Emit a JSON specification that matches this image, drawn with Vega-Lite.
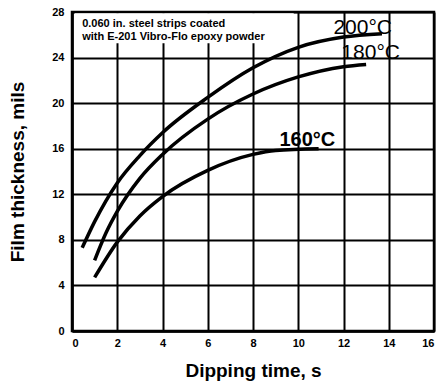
{
  "$schema": "https://vega.github.io/schema/vega-lite/v6.json",
  "width": 362,
  "height": 319,
  "autosize": {"type": "none"},
  "padding": {"left": 72, "top": 12, "right": 9, "bottom": 58},
  "background": "white",
  "config": {
    "view": {"stroke": "black", "strokeWidth": 2.5},
    "font": "Liberation Sans",
    "axis": {
      "domainColor": "black",
      "domainWidth": 2.5,
      "gridColor": "black",
      "gridWidth": 2,
      "gridOpacity": 1,
      "ticks": false,
      "labelColor": "black",
      "labelFont": "Liberation Sans",
      "labelFontWeight": "bold",
      "labelFontSize": 11,
      "titleColor": "black",
      "titleFont": "Liberation Sans",
      "titleFontWeight": "bold",
      "titleFontSize": 19
    }
  },
  "datasets": {
    "curves": [
      {"t": 0.45, "h": 7.3, "temp": "200"},
      {"t": 1.0, "h": 9.6, "temp": "200"},
      {"t": 2.0, "h": 13.0, "temp": "200"},
      {"t": 3.0, "h": 15.4, "temp": "200"},
      {"t": 4.0, "h": 17.4, "temp": "200"},
      {"t": 6.0, "h": 20.5, "temp": "200"},
      {"t": 8.0, "h": 23.1, "temp": "200"},
      {"t": 10.0, "h": 24.9, "temp": "200"},
      {"t": 12.0, "h": 25.8, "temp": "200"},
      {"t": 13.7, "h": 26.1, "temp": "200"},
      {"t": 1.0, "h": 6.2, "temp": "180"},
      {"t": 1.5, "h": 8.6, "temp": "180"},
      {"t": 2.0, "h": 10.5, "temp": "180"},
      {"t": 3.0, "h": 13.4, "temp": "180"},
      {"t": 4.0, "h": 15.5, "temp": "180"},
      {"t": 6.0, "h": 18.6, "temp": "180"},
      {"t": 8.0, "h": 20.8, "temp": "180"},
      {"t": 10.0, "h": 22.3, "temp": "180"},
      {"t": 12.0, "h": 23.2, "temp": "180"},
      {"t": 13.0, "h": 23.4, "temp": "180"},
      {"t": 1.0, "h": 4.7, "temp": "160"},
      {"t": 2.0, "h": 7.8, "temp": "160"},
      {"t": 3.0, "h": 10.1, "temp": "160"},
      {"t": 4.0, "h": 11.8, "temp": "160"},
      {"t": 6.0, "h": 14.1, "temp": "160"},
      {"t": 8.0, "h": 15.5, "temp": "160"},
      {"t": 9.0, "h": 15.85, "temp": "160"},
      {"t": 10.9, "h": 16.0, "temp": "160"}
    ],
    "labels": [
      {"t": 12.85, "h": 26.6, "txt": "200°C"},
      {"t": 13.2, "h": 24.4, "txt": "180°C"}
    ],
    "boldlabels": [
      {"t": 10.4, "h": 16.8, "txt": "160°C"}
    ],
    "notebox": [
      {"t0": 0.12, "t1": 9.8, "h0": 25.25, "h1": 27.88}
    ],
    "note": [
      {"t": 0.45, "h": 26.95, "txt": "0.060 in. steel strips coated"},
      {"t": 0.45, "h": 25.8, "txt": "with E-201 Vibro-Flo epoxy powder"}
    ]
  },
  "layer": [
    {
      "data": {"name": "curves"},
      "mark": {"type": "line", "interpolate": "monotone", "color": "black", "strokeWidth": 3.5, "strokeCap": "butt"},
      "encoding": {
        "x": {
          "field": "t", "type": "quantitative",
          "scale": {"domain": [0, 16], "nice": false},
          "axis": {"values": [0, 2, 4, 6, 8, 10, 12, 14, 16], "grid": true, "title": "Dipping time, s", "titlePadding": 13, "labelPadding": 6}
        },
        "y": {
          "field": "h", "type": "quantitative",
          "scale": {"domain": [0, 28], "nice": false},
          "axis": {"values": [0, 4, 8, 12, 16, 20, 24, 28], "grid": true, "title": "Film thickness, mils", "titlePadding": 24, "labelPadding": 8}
        },
        "detail": {"field": "temp", "type": "nominal"}
      }
    },
    {
      "data": {"name": "notebox"},
      "mark": {"type": "rect", "color": "white", "opacity": 1},
      "encoding": {
        "x": {"field": "t0", "type": "quantitative"},
        "x2": {"field": "t1"},
        "y": {"field": "h0", "type": "quantitative"},
        "y2": {"field": "h1"}
      }
    },
    {
      "data": {"name": "labels"},
      "mark": {"type": "text", "color": "black", "font": "Liberation Sans", "fontSize": 21, "align": "center", "baseline": "middle"},
      "encoding": {
        "x": {"field": "t", "type": "quantitative"},
        "y": {"field": "h", "type": "quantitative"},
        "text": {"field": "txt"}
      }
    },
    {
      "data": {"name": "boldlabels"},
      "mark": {"type": "text", "color": "black", "font": "Liberation Sans", "fontWeight": "bold", "fontSize": 20, "align": "center", "baseline": "middle"},
      "encoding": {
        "x": {"field": "t", "type": "quantitative"},
        "y": {"field": "h", "type": "quantitative"},
        "text": {"field": "txt"}
      }
    },
    {
      "data": {"name": "note"},
      "mark": {"type": "text", "color": "black", "font": "Liberation Sans", "fontWeight": "bold", "fontSize": 11, "align": "left", "baseline": "middle"},
      "encoding": {
        "x": {"field": "t", "type": "quantitative"},
        "y": {"field": "h", "type": "quantitative"},
        "text": {"field": "txt"}
      }
    }
  ]
}
